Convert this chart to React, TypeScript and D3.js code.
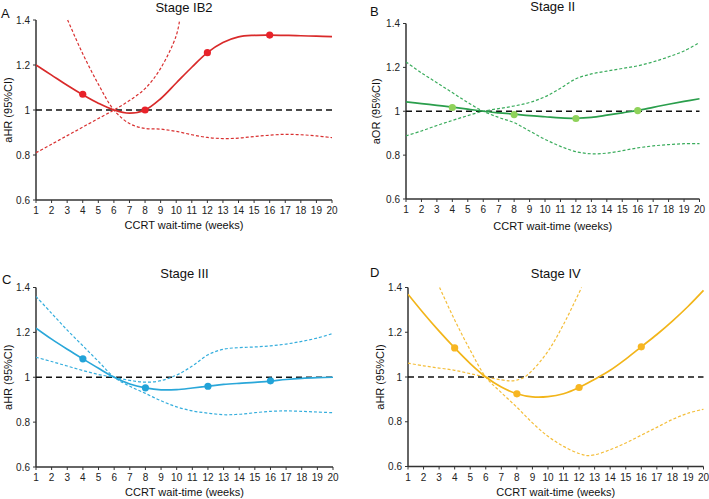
import React from "react";
import * as d3 from "d3";

const weeks = d3.range(1, 21);
const xTickLabels = weeks.map(String);
const yTicks = [0.6, 0.8, 1.0, 1.2, 1.4];
const yTickLabels = ["0.6", "0.8", "1", "1.2", "1.4"];
const pointWeeks = [4, 8, 12, 16];

// Stage IB2
const ib2Est = [1.2, 1.155, 1.11, 1.068, 1.03, 1.0, 0.986, 1.0, 1.05, 1.12, 1.19, 1.255, 1.3, 1.325, 1.332, 1.333, 1.332, 1.33, 1.328, 1.326];
const ib2CiAWeeks = [1, 2, 3, 4, 5, 6, 7, 8, 9, 10, 10.22];
const ib2CiAVals = [0.81, 0.848, 0.886, 0.924, 0.962, 1.0, 1.042, 1.095, 1.185, 1.33, 1.4];
const ib2CiBWeeks = [3.03, 4, 5, 6, 7, 8, 9, 10, 11, 12, 13, 14, 15, 16, 17, 18, 19, 20];
const ib2CiBVals = [1.4, 1.25, 1.115, 1.0, 0.94, 0.918, 0.915, 0.905, 0.89, 0.878, 0.873, 0.875, 0.882, 0.888, 0.892, 0.89, 0.885, 0.877];
const ib2Points = [1.07, 1.0, 1.255, 1.333];

// Stage II
const iiEst = [1.043, 1.035, 1.027, 1.019, 1.01, 1.0, 0.993, 0.987, 0.98, 0.975, 0.97, 0.968, 0.972, 0.982, 0.993, 1.004, 1.018, 1.032, 1.045, 1.057];
const iiCiA = [0.888, 0.91, 0.935, 0.958, 0.98, 1.0, 1.012, 1.024, 1.04, 1.066, 1.105, 1.148, 1.17, 1.183, 1.195, 1.207, 1.225, 1.248, 1.275, 1.313];
const iiCiB = [1.225, 1.175, 1.13, 1.085, 1.04, 1.0, 0.972, 0.948, 0.91, 0.872, 0.84, 0.816, 0.806, 0.809, 0.82, 0.833, 0.842, 0.848, 0.852, 0.852];
const iiPoints = [1.017, 0.985, 0.967, 1.003];

// Stage III
const iiiEst = [1.219, 1.17, 1.125, 1.082, 1.04, 1.0, 0.97, 0.953, 0.944, 0.945, 0.952, 0.96, 0.968, 0.973, 0.977, 0.983, 0.99, 0.995, 0.998, 1.0];
const iiiCiA = [1.36, 1.285, 1.21, 1.14, 1.07, 1.0, 0.96, 0.928, 0.895, 0.868, 0.85, 0.84, 0.833, 0.835, 0.842, 0.848, 0.85, 0.848, 0.845, 0.842];
const iiiCiB = [1.089, 1.07, 1.05, 1.03, 1.012, 1.0, 0.986, 0.978, 0.985, 1.01, 1.05, 1.1, 1.125, 1.132, 1.135, 1.14, 1.148, 1.16, 1.175, 1.195];
const iiiPoints = [1.082, 0.953, 0.96, 0.984];

// Stage IV
const ivEst = [1.37, 1.285, 1.205, 1.13, 1.06, 1.0, 0.955, 0.925, 0.911, 0.912, 0.925, 0.953, 0.99, 1.03, 1.08, 1.135, 1.19, 1.25, 1.315, 1.387];
const ivCiAWeeks = [1, 2, 3, 4, 5, 6, 7, 7.6, 8, 8.5, 9, 10, 11, 12.16];
const ivCiAVals = [1.062, 1.05, 1.04, 1.03, 1.015, 1.0, 0.987, 0.983, 0.986, 1.0, 1.03, 1.115, 1.235, 1.4];
const ivCiBWeeks = [3.03, 4, 5, 6, 7, 8, 9, 10, 11, 12, 12.5, 13, 14, 15, 16, 17, 18, 19, 20];
const ivCiBVals = [1.4, 1.255, 1.12, 1.0, 0.93, 0.865, 0.795, 0.735, 0.69, 0.658, 0.649, 0.652, 0.675, 0.705, 0.74, 0.775, 0.81, 0.838, 0.856];
const ivPoints = [1.13, 0.925, 0.953, 1.135];

type Pt = [number, number];
const zip = (xs: number[], ys: number[]): Pt[] => xs.map((x, i) => [x, ys[i]]);

interface PanelProps {
  left: number; right: number; top: number; bottom: number;
  letter: string; letterX: number; letterY: number;
  title: string; titleY: number;
  yLabel: string; yLabelX: number;
  xLabelY: number;
  color: string; ciColor: string; pointColor: string;
  est: Pt[]; ciA: Pt[]; ciB: Pt[]; points: Pt[];
  id: string;
}

const font = "Liberation Sans, Arial, sans-serif";

function Panel(p: PanelProps) {
  const x = d3.scaleLinear().domain([1, 20]).range([p.left, p.right]);
  const y = d3.scaleLinear().domain([0.6, 1.4]).range([p.bottom, p.top]);
  const line = d3.line<Pt>().x(d => x(d[0])).y(d => y(d[1])).curve(d3.curveCatmullRom.alpha(0.5));
  const axisColor = "#333";
  const cx = (p.left + p.right) / 2;
  const cy = (p.top + p.bottom) / 2;
  return (
    <g>
      <defs>
        <clipPath id={p.id}>
          <rect x={p.left} y={p.top - 1} width={p.right - p.left + 4} height={p.bottom - p.top + 1} />
        </clipPath>
      </defs>
      <text x={p.letterX} y={p.letterY} fontSize={13} fontFamily={font} fill="#111">{p.letter}</text>
      <text x={cx} y={p.titleY} fontSize={13} fontFamily={font} textAnchor="middle" fill="#111">{p.title}</text>
      <text transform={`translate(${p.yLabelX},${cy}) rotate(-90)`} fontSize={11} fontFamily={font} textAnchor="middle" fill="#111">{p.yLabel}</text>
      <text x={cx} y={p.xLabelY} fontSize={11} fontFamily={font} textAnchor="middle" fill="#111">CCRT wait-time (weeks)</text>
      <line x1={p.left} x2={p.left} y1={p.top} y2={p.bottom} stroke={axisColor} strokeWidth={1.5} />
      {yTicks.map((t, i) => (
        <g key={"y" + i}>
          <line x1={p.left - 3} x2={p.left} y1={y(t)} y2={y(t)} stroke={axisColor} strokeWidth={1} />
          <text x={p.left - 6} y={y(t) + 3.5} fontSize={10} fontFamily={font} textAnchor="end" fill="#222">{yTickLabels[i]}</text>
        </g>
      ))}
      <line x1={p.left} x2={p.right} y1={p.bottom} y2={p.bottom} stroke={axisColor} strokeWidth={1.5} />
      {weeks.map((w, i) => (
        <g key={"x" + i}>
          <line x1={x(w)} x2={x(w)} y1={p.bottom} y2={p.bottom + 3} stroke={axisColor} strokeWidth={1} />
          <text x={x(w)} y={p.bottom + 14} fontSize={10} fontFamily={font} textAnchor="middle" fill="#222">{xTickLabels[i]}</text>
        </g>
      ))}
      <line x1={p.left} x2={p.right} y1={y(1)} y2={y(1)} stroke="#111" strokeWidth={1.5} strokeDasharray="6,4" />
      <g clipPath={`url(#${p.id})`}>
        <path d={line(p.ciA) || ""} fill="none" stroke={p.ciColor} strokeWidth={1.2} strokeDasharray="3,2" />
        <path d={line(p.ciB) || ""} fill="none" stroke={p.ciColor} strokeWidth={1.2} strokeDasharray="3,2" />
        <path d={line(p.est) || ""} fill="none" stroke={p.color} strokeWidth={1.7} />
      </g>
      {p.points.map((d, i) => (
        <circle key={"p" + i} cx={x(d[0])} cy={y(d[1])} r={3.6} fill={p.pointColor} />
      ))}
    </g>
  );
}

export default function App() {
  return (
    <svg width={709} height={499} style={{ position: "absolute", left: 0, top: 0, background: "#fff" }}>
      <rect width={709} height={499} fill="#fff" />
      <Panel id="cA" left={36} right={332} top={20} bottom={200}
        letter="A" letterX={1} letterY={18} title="Stage IB2" titleY={11.5}
        yLabel="aHR (95%CI)" yLabelX={12} xLabelY={229}
        color="#d92a2a" ciColor="#d93030" pointColor="#e8222a"
        est={zip(weeks, ib2Est)} ciA={zip(ib2CiAWeeks, ib2CiAVals)} ciB={zip(ib2CiBWeeks, ib2CiBVals)}
        points={zip(pointWeeks, ib2Points)} />
      <Panel id="cB" left={406} right={699.5} top={23.5} bottom={199}
        letter="B" letterX={370} letterY={16} title="Stage II" titleY={11}
        yLabel="aOR (95%CI)" yLabelX={380} xLabelY={230}
        color="#2a9e4c" ciColor="#3aac5c" pointColor="#8fd25a"
        est={zip(weeks, iiEst)} ciA={zip(weeks, iiCiA)} ciB={zip(weeks, iiCiB)}
        points={zip(pointWeeks, iiPoints)} />
      <Panel id="cC" left={36} right={333} top={287.5} bottom={467}
        letter="C" letterX={2} letterY={284} title="Stage III" titleY={278}
        yLabel="aHR (95%CI)" yLabelX={12} xLabelY={496}
        color="#2aa7d9" ciColor="#35aedd" pointColor="#22a3d8"
        est={zip(weeks, iiiEst)} ciA={zip(weeks, iiiCiA)} ciB={zip(weeks, iiiCiB)}
        points={zip(pointWeeks, iiiPoints)} />
      <Panel id="cD" left={408} right={703.5} top={287.5} bottom={466.5}
        letter="D" letterX={370} letterY={277} title="Stage IV" titleY={278}
        yLabel="aHR (95%CI)" yLabelX={384} xLabelY={496}
        color="#f2b51a" ciColor="#f4be3a" pointColor="#f7b622"
        est={zip(weeks, ivEst)} ciA={zip(ivCiAWeeks, ivCiAVals)} ciB={zip(ivCiBWeeks, ivCiBVals)}
        points={zip(pointWeeks, ivPoints)} />
    </svg>
  );
}
